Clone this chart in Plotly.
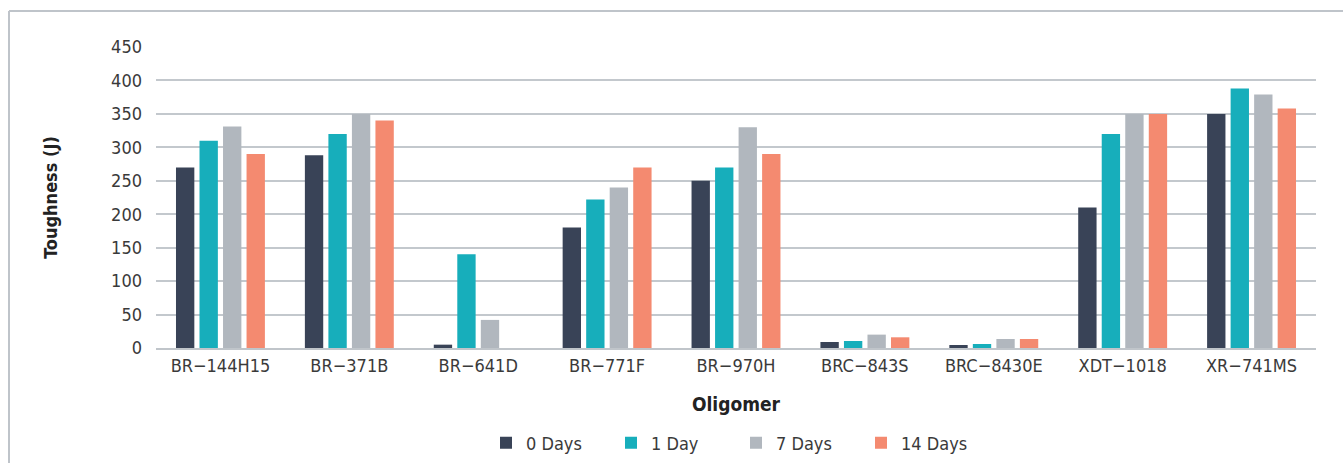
import plotly.graph_objects as go

categories = ["BR-144H15", "BR-371B", "BR-641D", "BR-771F", "BR-970H",
              "BRC-843S", "BRC-8430E", "XDT-1018", "XR-741MS"]
tick_labels = ["BR\u2212144H15", "BR\u2212371B", "BR\u2212641D", "BR\u2212771F", "BR\u2212970H",
               "BRC\u2212843S", "BRC\u22128430E", "XDT\u22121018", "XR\u2212741MS"]

days_0 = [270, 288, 5, 180, 250, 9, 4.5, 210, 350]
days_1 = [310, 320, 140, 222, 270, 10.5, 6, 320, 388]
days_7 = [331, 350, 42, 240, 330, 20, 13.5, 350, 379]
days_14 = [290, 340, 0, 270, 290, 16, 13.5, 350, 358]

series_names = ["0 Days", "1 Day", "7 Days", "14 Days"]
colors = ["#394357", "#17AEBB", "#B1B7BE", "#F48A70"]

FONT = "Liberation Sans Narrow, DejaVu Sans Condensed, Roboto, Arial Narrow, sans-serif"
TXT = "#3a3a3a"
BORDER = "#BFC4CA"

fig = go.Figure()
for name, vals, col in zip(series_names, [days_0, days_1, days_7, days_14], colors):
    fig.add_trace(go.Bar(name=name, x=categories, y=vals, marker=dict(color=col, line=dict(width=0))))

fig.update_layout(
    width=1343, height=463,
    margin=dict(l=156, r=27, t=47, b=115, autoexpand=False),
    paper_bgcolor="white", plot_bgcolor="white",
    barmode="group", bargap=0.27, bargroupgap=0.22,
    font=dict(family=FONT, size=18, color=TXT),
    showlegend=True,
    legend=dict(orientation="h", x=0.5, xanchor="center", y=-0.316, yanchor="middle",
                font=dict(family=FONT, size=18, color=TXT),
                itemwidth=30, traceorder="normal", entrywidth=80, entrywidthmode="pixels"),
    xaxis=dict(tickvals=categories, ticktext=tick_labels, showgrid=False,
               showline=True, linecolor="#C0C5CA", linewidth=2,
               tickfont=dict(family=FONT, size=18, color=TXT),
               title=dict(text="<b>Oligomer</b>", font=dict(family=FONT, size=19, color="#222"), standoff=23),
               automargin=False),
    yaxis=dict(range=[0, 450], dtick=50, showgrid=True, gridcolor="#C3C8CD", gridwidth=2,
               zeroline=False, showline=False, ticklabelstandoff=13,
               tickfont=dict(family=FONT, size=18, color=TXT),
               title=dict(text="<b>Toughness (J)</b>", font=dict(family=FONT, size=18, color="#222"), standoff=48),
               automargin=False),
)

# outer frame: top and left edges (right/bottom run off the canvas)
x_left = (9 - 156) / 1160
y_top = (348 - 11) / 301
fig.add_shape(type="line", xref="paper", yref="paper", x0=x_left, x1=1.2, y0=y_top, y1=y_top,
              line=dict(color=BORDER, width=2), layer="below")
fig.add_shape(type="line", xref="paper", yref="paper", x0=x_left, x1=x_left, y0=-0.5, y1=y_top,
              line=dict(color=BORDER, width=2), layer="below")

fig.write_html("out.html", config={"displayModeBar": False},
               post_script="document.body.style.margin='0';document.body.style.overflow='hidden';")
